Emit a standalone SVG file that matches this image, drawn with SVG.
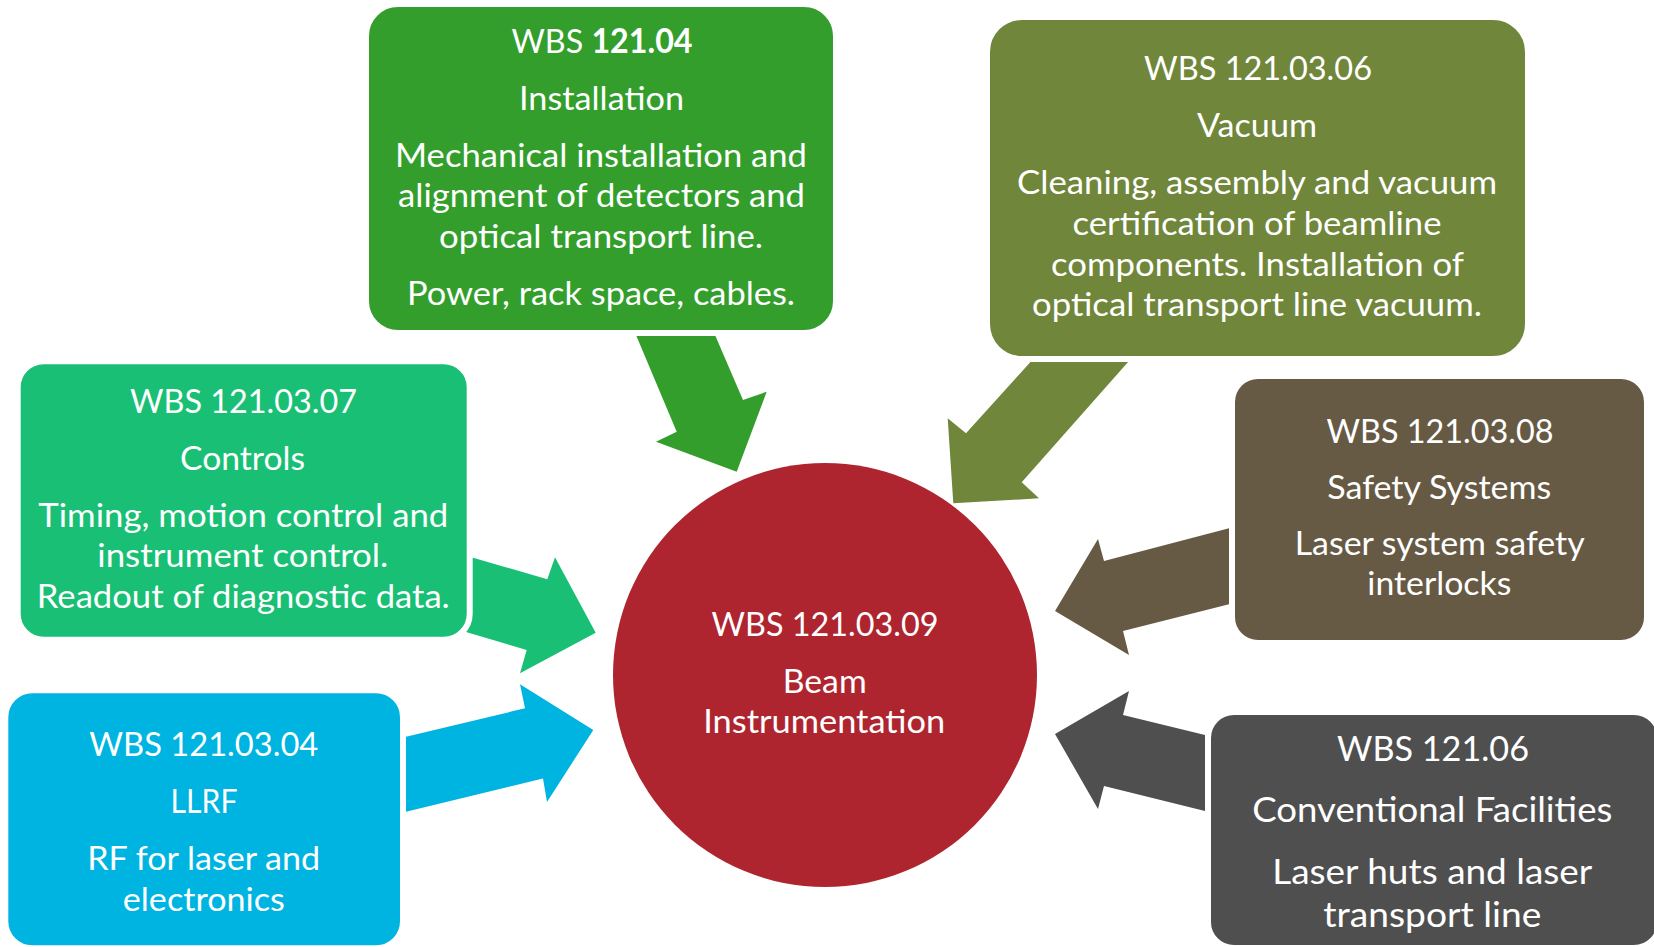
<svg xmlns="http://www.w3.org/2000/svg" width="1654" height="947" viewBox="0 0 1654 947">
<style>
.t{font-family:Lato,"Open Sans","Liberation Sans",sans-serif;font-size:33.5px;fill:#ffffff;text-anchor:middle}
.big{font-size:35.5px}
.box{stroke:#ffffff;stroke-width:6}
</style>
<g id="connectors">
<polygon id="arrow-installation" fill="#339E2B" points="636,335 715,335 743,400 766.7,391.7 736.7,471.7 656,441.7 676.7,431.7"/>
<polygon id="arrow-vacuum" fill="#70863A" points="1030.7,361.7 1128.3,361.7 1021.7,482.3 1039,498.3 953.3,503.3 947.7,418.3 966,433.3"/>
<polygon id="arrow-safety" fill="#675A45" points="1230,528 1104,561 1098,539 1055,611 1129,655 1123,631 1230,604"/>
<polygon id="arrow-cf" fill="#4F4F4F" points="1205,735 1123,715 1129,691 1055,734 1098,809 1104,786 1205,811"/>
<polygon id="arrow-controls" fill="#19BF75" points="455,552.4 547.3,579.3 555,557.3 595.7,632.7 520,673.3 526.7,650 455,628.7"/>
<polygon id="arrow-llrf" fill="#00B4E1" points="406,736.7 525,708.3 520,684.3 593.3,730 547,802 543,778.4 406,811.7"/>
</g>
<g id="node-installation">
<rect class="box" x="366" y="4" width="470" height="329" rx="32" fill="#339E2B"/>
<text class="t" x="602" y="53" textLength="181" lengthAdjust="spacingAndGlyphs">WBS <tspan font-weight="bold">121.04</tspan></text>
<text class="t" x="601.5" y="110" textLength="165" lengthAdjust="spacingAndGlyphs">Installation</text>
<text class="t" x="601" y="167" textLength="412" lengthAdjust="spacingAndGlyphs">Mechanical installation and</text>
<text class="t" x="601.5" y="207" textLength="407" lengthAdjust="spacingAndGlyphs">alignment of detectors and</text>
<text class="t" x="601" y="248" textLength="324" lengthAdjust="spacingAndGlyphs">optical transport line.</text>
<text class="t" x="601" y="305" textLength="388" lengthAdjust="spacingAndGlyphs">Power, rack space, cables.</text>
</g>
<g id="node-vacuum">
<rect class="box" x="987" y="17" width="541" height="342" rx="35" fill="#70863A"/>
<text class="t" x="1258" y="80" textLength="228" lengthAdjust="spacingAndGlyphs">WBS 121.03.06</text>
<text class="t" x="1257" y="137" textLength="120" lengthAdjust="spacingAndGlyphs">Vacuum</text>
<text class="t" x="1257" y="194" textLength="480" lengthAdjust="spacingAndGlyphs">Cleaning, assembly and vacuum</text>
<text class="t" x="1257" y="235" textLength="369" lengthAdjust="spacingAndGlyphs">certification of beamline</text>
<text class="t" x="1257.5" y="276" textLength="413" lengthAdjust="spacingAndGlyphs">components. Installation of</text>
<text class="t" x="1257" y="316" textLength="450" lengthAdjust="spacingAndGlyphs">optical transport line vacuum.</text>
</g>
<g id="node-controls">
<rect class="box" x="17.7" y="361.3" width="452" height="278.4" rx="26" fill="#19BF75"/>
<text class="t" x="243.5" y="413" textLength="227" lengthAdjust="spacingAndGlyphs">WBS 121.03.07</text>
<text class="t" x="242.5" y="470" textLength="125" lengthAdjust="spacingAndGlyphs">Controls</text>
<text class="t" x="243.3" y="527" textLength="410" lengthAdjust="spacingAndGlyphs">Timing, motion control and</text>
<text class="t" x="242.8" y="567" textLength="291" lengthAdjust="spacingAndGlyphs">instrument control.</text>
<text class="t" x="243.3" y="608" textLength="413" lengthAdjust="spacingAndGlyphs">Readout of diagnostic data.</text>
</g>
<g id="node-llrf">
<rect class="box" x="5.3" y="690.3" width="397.7" height="258" rx="27" fill="#00B4E1"/>
<text class="t" x="203.8" y="756" textLength="229" lengthAdjust="spacingAndGlyphs">WBS 121.03.04</text>
<text class="t" x="204" y="813" textLength="67" lengthAdjust="spacingAndGlyphs">LLRF</text>
<text class="t" x="203.7" y="870" textLength="233" lengthAdjust="spacingAndGlyphs">RF for laser and</text>
<text class="t" x="203.8" y="911" textLength="162" lengthAdjust="spacingAndGlyphs">electronics</text>
</g>
<g id="node-safety">
<rect class="box" x="1232" y="376" width="415" height="267" rx="26" fill="#675A45"/>
<text class="t" x="1440" y="443" textLength="227" lengthAdjust="spacingAndGlyphs">WBS 121.03.08</text>
<text class="t" x="1439.3" y="499" textLength="224" lengthAdjust="spacingAndGlyphs">Safety Systems</text>
<text class="t" x="1439.7" y="555" textLength="290" lengthAdjust="spacingAndGlyphs">Laser system safety</text>
<text class="t" x="1439.3" y="595" textLength="144" lengthAdjust="spacingAndGlyphs">interlocks</text>
</g>
<g id="node-cf">
<rect class="box" x="1208" y="712" width="452" height="236" rx="26" fill="#4F4F4F"/>
<text class="t big" x="1433" y="761" textLength="192" lengthAdjust="spacingAndGlyphs">WBS 121.06</text>
<text class="t big" x="1432.3" y="822" textLength="360" lengthAdjust="spacingAndGlyphs">Conventional Facilities</text>
<text class="t big" x="1432.3" y="884" textLength="320" lengthAdjust="spacingAndGlyphs">Laser huts and laser</text>
<text class="t big" x="1432.3" y="927" textLength="218" lengthAdjust="spacingAndGlyphs">transport line</text>
</g>
<g id="node-beam-instrumentation">
<circle cx="825" cy="675" r="212" fill="#AE252F"/>
<text class="t" x="825" y="636" textLength="227" lengthAdjust="spacingAndGlyphs">WBS 121.03.09</text>
<text class="t" x="824.7" y="693" textLength="84" lengthAdjust="spacingAndGlyphs">Beam</text>
<text class="t" x="824.2" y="733" textLength="242" lengthAdjust="spacingAndGlyphs">Instrumentation</text>
</g>
</svg>
